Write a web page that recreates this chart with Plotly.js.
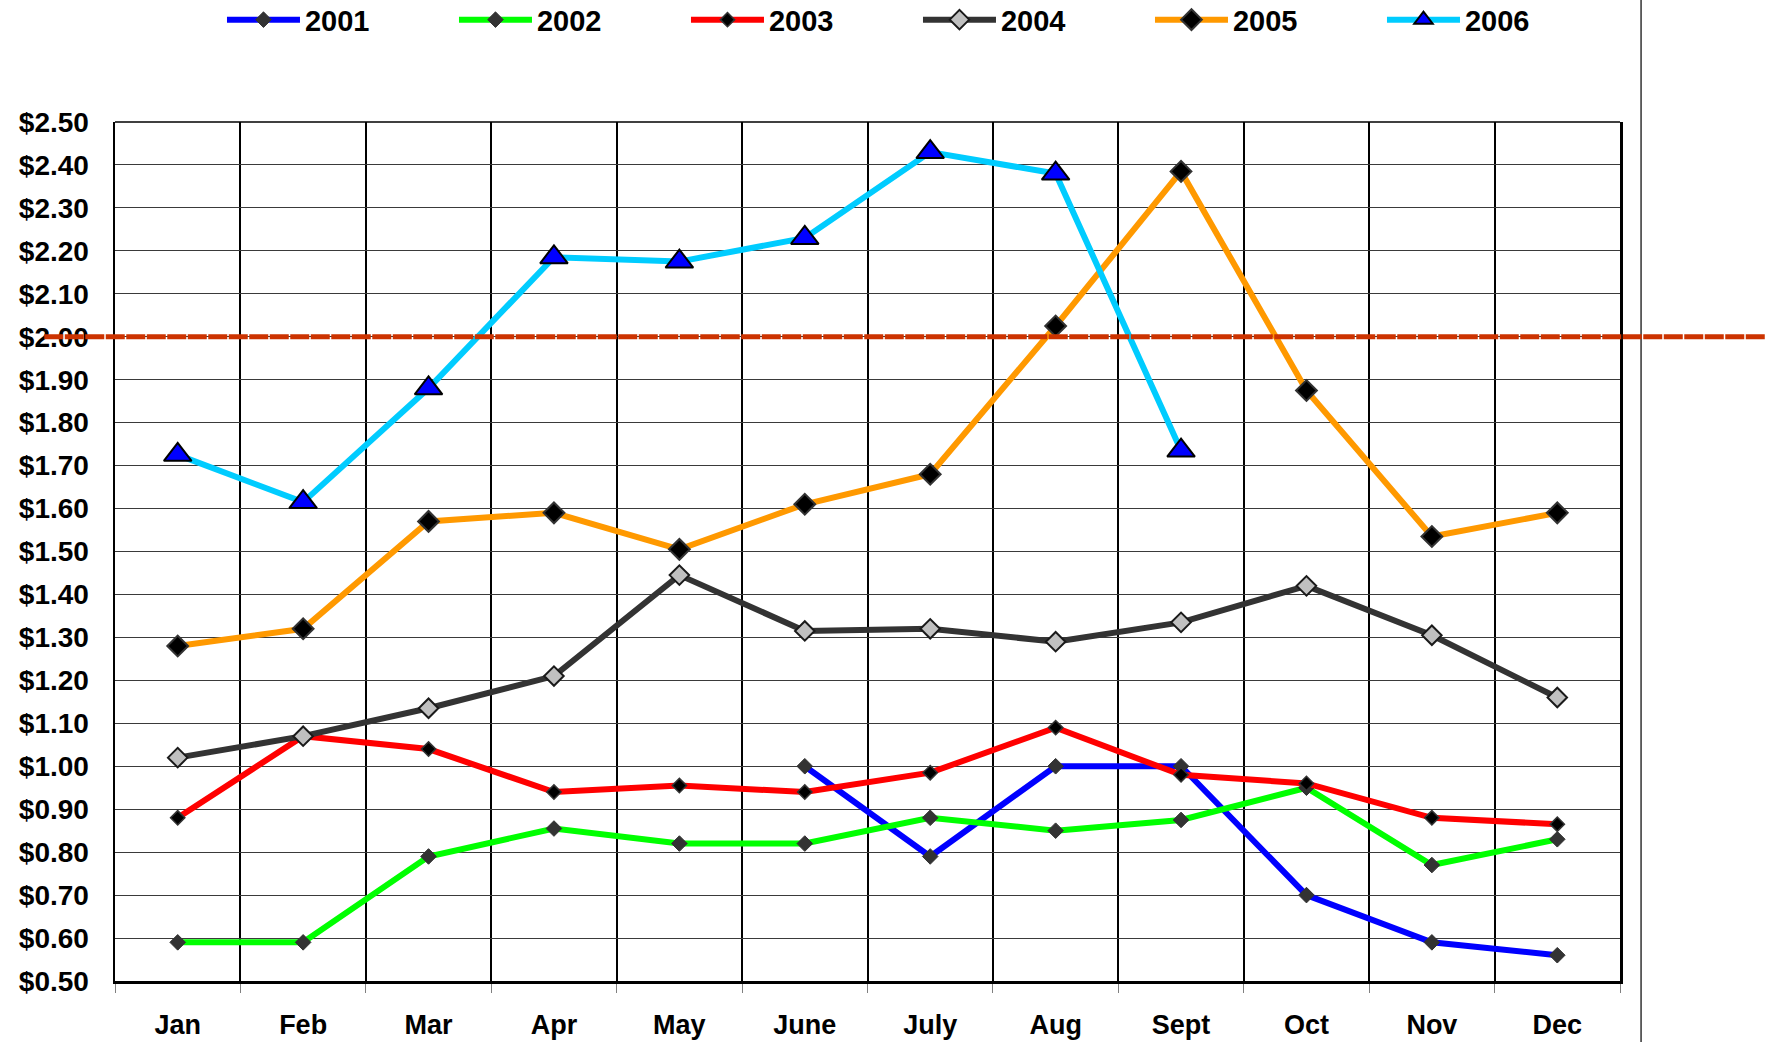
<!DOCTYPE html>
<html><head><meta charset="utf-8">
<script src="https://cdn.plot.ly/plotly-3.0.1.min.js"></script>
<style>html,body{margin:0;padding:0;background:#fff;overflow:hidden}#chart{width:1766px;height:1042px}</style>
</head><body><div id="chart"></div>
<script>
const months = ['Jan','Feb','Mar','Apr','May','June','July','Aug','Sept','Oct','Nov','Dec'];
const seriesNames = ['2001','2002','2003','2004','2005','2006'];
const y2001 = [null,null,null,null,null,1.00,0.79,1.00,1.00,0.70,0.59,0.56];
const y2002 = [0.59,0.59,0.79,0.855,0.82,0.82,0.88,0.85,0.875,0.95,0.77,0.83];
const y2003 = [0.88,1.07,1.04,0.94,0.955,0.94,0.985,1.09,0.98,0.96,0.88,0.865];
const y2004 = [1.02,1.07,1.135,1.21,1.445,1.315,1.32,1.29,1.335,1.42,1.305,1.16];
const y2005 = [1.28,1.32,1.57,1.59,1.505,1.61,1.68,2.025,2.385,1.875,1.535,1.59];
const y2006 = [1.725,1.615,1.88,2.185,2.175,2.23,2.43,2.38,1.735];
const targetPrice = 2.00;

const FONT = 'Liberation Sans, Arial, sans-serif';
function tr(name, y, lineColor, sym, size, fill, outline, olw){
  return {type:'scatter', mode:'lines+markers', name:name, x:months, y:y,
    line:{color:lineColor, width:6}, connectgaps:false,
    marker:{symbol:sym, size:size, color:fill, line:{color:outline, width:olw}}};
}
const data = [
  tr(seriesNames[0], y2001, '#0000ff', 'diamond', 12, '#333333', '#333333', 1),
  tr(seriesNames[1], y2002, '#00ff00', 'diamond', 12, '#333333', '#333333', 1),
  tr(seriesNames[2], y2003, '#ff0000', 'diamond', 11, '#000000', '#333333', 1.5),
  tr(seriesNames[3], y2004, '#333333', 'diamond', 15, '#c0c0c0', '#1a1a1a', 2),
  tr(seriesNames[4], y2005, '#ff9900', 'diamond', 16, '#000000', '#333333', 2),
  tr(seriesNames[5], y2006, '#00ccff', 'triangle-up', 24, '#0000ff', '#000000', 2)
];
const layout = {
  width:1766, height:1042,
  margin:{l:115, r:146, t:122, b:61, autoexpand:false},
  paper_bgcolor:'#ffffff', plot_bgcolor:'#ffffff',
  font:{family:FONT, color:'#000'},
  showlegend:true,
  legend:{orientation:'h', xref:'container', x:0.1257, xanchor:'left', yref:'container', y:0.981, yanchor:'middle',
    font:{family:FONT, size:29, weight:700}, entrywidth:144, entrywidthmode:'pixels',
    itemwidth:73, bgcolor:'rgba(0,0,0,0)'},
  xaxis:{type:'category', range:[-0.5,11.5], tickson:'boundaries',
    showgrid:true, gridcolor:'#000000', gridwidth:2,
    showline:true, linecolor:'#000000', linewidth:2.5, mirror:false,
    ticks:'outside', ticklen:9, tickcolor:'#808080', tickwidth:1,
    tickfont:{family:FONT, size:27, weight:700}, ticklabelstandoff:18, fixedrange:true},
  yaxis:{range:[0.5,2.5], dtick:0.1, tick0:0.5, tickformat:'$.2f',
    showgrid:true, gridcolor:'#3a3a3a', gridwidth:1, zeroline:false,
    showline:true, linecolor:'#000000', linewidth:2.5, mirror:true,
    ticks:'outside', ticklen:18, tickcolor:'rgba(0,0,0,0)',
    tickfont:{family:FONT, size:28, weight:700}, fixedrange:true},
  shapes:[
    {type:'line', xref:'paper', yref:'paper', x0:0, x1:1, y0:1, y1:1, line:{color:'#000', width:1.5}, layer:'above'},
    {type:'line', xref:'paper', yref:'paper', x0:1.014, x1:1.014, y0:-0.2, y1:1.2, line:{color:'#333333', width:1.5}},
    {type:'line', xref:'paper', yref:'y', x0:-0.047, x1:1.1, y0:targetPrice, y1:targetPrice, line:{color:'#cc3300', width:5, dash:'19px,1.5px'}, layer:'above'}
  ]
};
Plotly.newPlot('chart', data, layout, {displayModeBar:false, staticPlot:true});
</script></body></html>
